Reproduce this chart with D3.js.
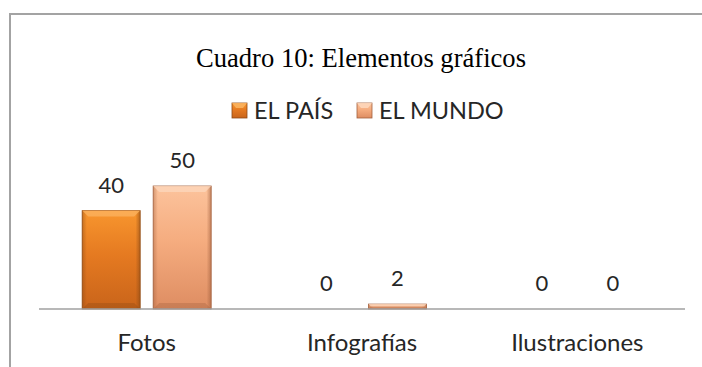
<!DOCTYPE html>
<html>
<head>
<meta charset="utf-8">
<script src="https://cdn.jsdelivr.net/npm/d3@7/dist/d3.min.js"></script>
<style>
html,body{margin:0;padding:0;background:#fff;overflow:hidden;}
svg{display:block;}
</style>
</head>
<body>
<svg id="chart" width="702" height="367"></svg>
<script>
const titleText = "Cuadro 10: Elementos gráficos";
const categories = ["Fotos", "Infografías", "Ilustraciones"];
const seriesNames = ["EL PAÍS", "EL MUNDO"];
const elPais = [40, 0, 0];
const elMundo = [50, 2, 0];
const seriesValues = [elPais, elMundo];

const svg = d3.select("#chart");

// gradients
const defs = svg.append("defs");
const palettes = [
  {id: "g0", top: "#F8962E", mid: "#E57A21", bot: "#C9641A", edge: "#8E4A14", hi: "#FBB25E"},
  {id: "g1", top: "#FCC39C", mid: "#F5AC7F", bot: "#DE8D62", edge: "#A2603E", hi: "#FDD6BA"}
];
palettes.forEach(p => {
  const g = defs.append("linearGradient").attr("id", p.id).attr("x1", 0).attr("y1", 0).attr("x2", 0).attr("y2", 1);
  g.append("stop").attr("offset", "0%").attr("stop-color", p.top);
  g.append("stop").attr("offset", "45%").attr("stop-color", p.mid);
  g.append("stop").attr("offset", "100%").attr("stop-color", p.bot);
  const h = defs.append("linearGradient").attr("id", p.id + "h").attr("x1", 0).attr("y1", 0).attr("x2", 1).attr("y2", 0);
  h.append("stop").attr("offset", "0%").attr("stop-color", p.edge).attr("stop-opacity", 0.45);
  h.append("stop").attr("offset", "8%").attr("stop-color", p.edge).attr("stop-opacity", 0);
  h.append("stop").attr("offset", "92%").attr("stop-color", p.edge).attr("stop-opacity", 0);
  h.append("stop").attr("offset", "100%").attr("stop-color", p.edge).attr("stop-opacity", 0.6);
});

// frame (top and left edges only; the rest lies outside the picture)
svg.append("path").attr("d", "M10,367 L10,14 L702,14")
  .attr("fill", "none").attr("stroke", "#a3a3a3").attr("stroke-width", 2);

// title
svg.append("text").attr("x", 361).attr("y", 67).attr("text-anchor", "middle")
  .attr("font-family", "'Liberation Serif', 'Times New Roman', serif")
  .attr("font-size", 28).attr("fill", "#000")
  .attr("textLength", 330).attr("lengthAdjust", "spacingAndGlyphs")
  .text(titleText);

// scales
const x0 = d3.scaleBand().domain(categories).range([39, 685]).padding(0);
const x1 = d3.scaleBand().domain(seriesNames).range([0, x0.bandwidth()])
  .paddingInner(0.183).paddingOuter(0.608);
const y = d3.scaleLinear().domain([0, 50]).range([309, 186]);

const font = "Lato, 'Open Sans', sans-serif";
const textColor = "#262626";

// bars
seriesNames.forEach((s, si) => {
  const p = palettes[si];
  categories.forEach((c, ci) => {
    const v = seriesValues[si][ci];
    const bx = x0(c) + x1(s);
    const bw = x1.bandwidth();
    const by = y(v);
    const bh = y(0) - y(v);
    if (bh > 0) {
      const g = svg.append("g");
      g.append("rect").attr("x", bx).attr("y", by).attr("width", bw).attr("height", bh)
        .attr("fill", `url(#${p.id})`).attr("stroke", p.edge).attr("stroke-width", 0.8);
      g.append("rect").attr("x", bx).attr("y", by).attr("width", bw).attr("height", bh)
        .attr("fill", `url(#${p.id}h)`);
      const bev = Math.min(6, bh / 2);
      g.append("path")
        .attr("d", `M${bx},${by} L${bx + bw},${by} L${bx + bw - bev},${by + bev} L${bx + bev},${by + bev} Z`)
        .attr("fill", p.hi).attr("opacity", 0.8);
      g.append("path")
        .attr("d", `M${bx},${by + bh} L${bx + bw},${by + bh} L${bx + bw - bev},${by + bh - bev} L${bx + bev},${by + bh - bev} Z`)
        .attr("fill", p.edge).attr("opacity", 0.35);
    }
    svg.append("text").attr("x", bx + bw / 2).attr("y", by - 18)
      .attr("text-anchor", "middle").attr("font-family", font).attr("font-size", 22)
      .attr("fill", textColor).text(v);
  });
});

// axis line
svg.append("line").attr("x1", 39).attr("x2", 685).attr("y1", y(0)).attr("y2", y(0))
  .attr("stroke", "#a0a0a0").attr("stroke-width", 1.5);

// category labels
svg.append("g").selectAll("text").data(categories).join("text")
  .attr("x", d => x0(d) + x0.bandwidth() / 2).attr("y", 351)
  .attr("text-anchor", "middle").attr("font-family", font).attr("font-size", 24)
  .attr("fill", textColor).text(d => d);

// legend
const legendX = [232, 357];
seriesNames.forEach((s, si) => {
  const p = palettes[si];
  const g = svg.append("g").attr("transform", `translate(${legendX[si]},103)`);
  g.append("rect").attr("width", 15).attr("height", 15).attr("fill", `url(#${p.id})`)
    .attr("stroke", p.edge).attr("stroke-width", 0.8);
  g.append("path").attr("d", "M0,0 L15,0 L11,5 L4,5 Z").attr("fill", p.hi).attr("opacity", 0.9);
  g.append("text").attr("x", 22).attr("y", 16).attr("font-family", font).attr("font-size", 23.5)
    .attr("fill", textColor).text(s);
});
</script>
</body>
</html>
